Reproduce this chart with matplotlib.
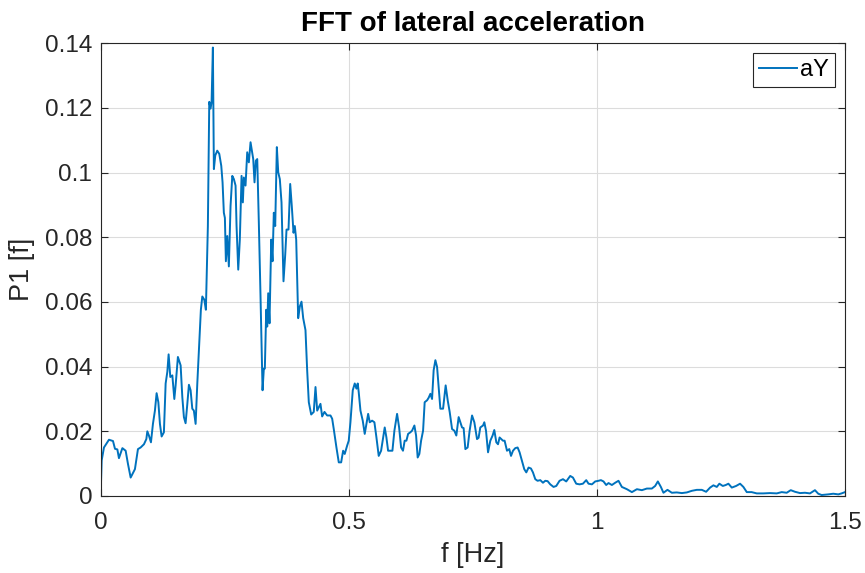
import matplotlib
matplotlib.use('Agg')
import matplotlib.pyplot as plt

plt.rcParams['font.family'] = ['Liberation Sans', 'DejaVu Sans']

# frequency [Hz] and single-sided amplitude
freq = [0.000, 0.002, 0.0066, 0.0167, 0.0248, 0.0288, 0.0336, 0.0368, 0.0437, 0.0503,
        0.055, 0.0604, 0.069, 0.0751, 0.0805, 0.0872, 0.092, 0.094, 0.0972, 0.1013,
        0.1053, 0.1093, 0.1127, 0.1162, 0.1194, 0.1228, 0.1274, 0.1309, 0.1343, 0.1369,
        0.1403, 0.1444, 0.1484, 0.151, 0.1556, 0.1611, 0.1645, 0.1677, 0.1711, 0.1746,
        0.1778, 0.1812, 0.1846, 0.1878, 0.1913, 0.1947, 0.1979, 0.2019, 0.2048, 0.2088,
        0.212, 0.216, 0.2188, 0.2215, 0.2235, 0.2261, 0.2281, 0.2309, 0.2349, 0.239,
        0.243, 0.2456, 0.2482, 0.2503, 0.2523, 0.2551, 0.2583, 0.2617, 0.2652, 0.2684,
        0.2718, 0.2738, 0.2772, 0.2804, 0.2839, 0.2865, 0.2885, 0.2919, 0.2953, 0.2986,
        0.302, 0.3074, 0.31, 0.3127, 0.3155, 0.3187, 0.3221, 0.3262, 0.3288, 0.3308,
        0.3336, 0.3356, 0.3376, 0.3402, 0.3437, 0.3463, 0.3489, 0.3517, 0.355, 0.3578,
        0.361, 0.3644, 0.3684, 0.3719, 0.3745, 0.3785, 0.3819, 0.3851, 0.3886, 0.3912,
        0.394, 0.398, 0.4013, 0.4047, 0.4081, 0.4127, 0.4161, 0.4194, 0.4242, 0.4294,
        0.4329, 0.4363, 0.4429, 0.4463, 0.451, 0.4564, 0.4631, 0.4665, 0.4697, 0.4751,
        0.4798, 0.4846, 0.4886, 0.4918, 0.4967, 0.4999, 0.5033, 0.508, 0.512, 0.5154,
        0.518, 0.52, 0.5235, 0.5281, 0.5321, 0.5355, 0.539, 0.5422, 0.547, 0.5516,
        0.5557, 0.5603, 0.5651, 0.5692, 0.5724, 0.5758, 0.5792, 0.5838, 0.5879, 0.5919,
        0.5973, 0.6014, 0.6054, 0.6092, 0.6126, 0.6161, 0.6195, 0.6241, 0.6275, 0.6322,
        0.6356, 0.6388, 0.6422, 0.6457, 0.6497, 0.6529, 0.6578, 0.661, 0.6644, 0.6678,
        0.671, 0.6745, 0.6779, 0.6811, 0.6845, 0.69, 0.6952, 0.6993, 0.7033, 0.7081,
        0.7127, 0.7167, 0.7214, 0.7282, 0.7314, 0.7349, 0.7395, 0.7435, 0.7484, 0.753,
        0.7584, 0.7616, 0.765, 0.7705, 0.7731, 0.7765, 0.7806, 0.7852, 0.7898, 0.7932,
        0.7973, 0.8007, 0.8039, 0.8073, 0.8107, 0.814, 0.8188, 0.8234, 0.8269, 0.8309,
        0.8355, 0.8402, 0.8442, 0.849, 0.8536, 0.8577, 0.8623, 0.8671, 0.8711, 0.8758,
        0.8804, 0.8859, 0.8913, 0.8959, 0.9006, 0.906, 0.9126, 0.9181, 0.9247, 0.9316,
        0.9382, 0.9462, 0.9517, 0.9583, 0.965, 0.9718, 0.9785, 0.9831, 0.99, 0.9966,
        1.0032, 1.0081, 1.0133, 1.0187, 1.0234, 1.0302, 1.0369, 1.0435, 1.0503, 1.0604,
        1.0705, 1.0806, 1.0906, 1.1007, 1.1107, 1.1174, 1.1228, 1.1289, 1.1341, 1.1422,
        1.151, 1.1609, 1.1712, 1.1812, 1.1913, 1.2013, 1.2114, 1.2201, 1.2281, 1.2348,
        1.2416, 1.2468, 1.2537, 1.2597, 1.265, 1.2718, 1.2805, 1.2885, 1.2952, 1.302,
        1.3118, 1.3221, 1.3354, 1.3489, 1.3624, 1.3724, 1.3825, 1.3906, 1.3992, 1.4093,
        1.4193, 1.4294, 1.4394, 1.4461, 1.4529, 1.4662, 1.4763, 1.4864, 1.4931, 1.5]

P1 = [0.001, 0.011, 0.015, 0.0174, 0.017, 0.0146, 0.0144, 0.0117, 0.0148, 0.014,
      0.0099, 0.0057, 0.0083, 0.0145, 0.015, 0.016, 0.0176, 0.020, 0.0187, 0.0166,
      0.0223, 0.0264, 0.0318, 0.029, 0.0223, 0.0184, 0.0197, 0.0348, 0.0384, 0.0438,
      0.0368, 0.0373, 0.030, 0.0342, 0.043, 0.0404, 0.0306, 0.0244, 0.0225, 0.0285,
      0.0344, 0.0327, 0.027, 0.0264, 0.0223, 0.0348, 0.045, 0.0576, 0.0617, 0.0607,
      0.0576, 0.0835, 0.1219, 0.1198, 0.122, 0.1387, 0.1011, 0.1053, 0.1068, 0.1058,
      0.1021, 0.097, 0.0876, 0.086, 0.0726, 0.0804, 0.071, 0.0897, 0.099, 0.098,
      0.096, 0.0835, 0.070, 0.0793, 0.099, 0.0908, 0.0985, 0.096, 0.1063, 0.1032,
      0.1094, 0.1042, 0.097, 0.1037, 0.1042, 0.0845, 0.0617, 0.0327, 0.0394, 0.0394,
      0.0576, 0.0524, 0.0627, 0.0534, 0.0793, 0.0726, 0.0876, 0.0835, 0.1079, 0.1001,
      0.098, 0.0908, 0.0664, 0.0747, 0.0824, 0.0824, 0.0965, 0.0897, 0.0814, 0.0835,
      0.0793, 0.055, 0.0586, 0.0601, 0.055, 0.0513, 0.0389, 0.029, 0.0252, 0.026,
      0.0337, 0.0264, 0.0285, 0.0246, 0.026, 0.0249, 0.0249, 0.0239, 0.0207, 0.015,
      0.0104, 0.0104, 0.014, 0.013, 0.0156, 0.0171, 0.0228, 0.0327, 0.0348, 0.0332,
      0.0348, 0.0321, 0.0264, 0.0233, 0.0192, 0.0223, 0.0254, 0.0228, 0.0233, 0.0228,
      0.0181, 0.0124, 0.014, 0.0181, 0.0212, 0.0181, 0.014, 0.014, 0.014, 0.0202,
      0.0254, 0.0212, 0.015, 0.014, 0.0171, 0.0171, 0.0192, 0.0197, 0.0202, 0.0218,
      0.0187, 0.0119, 0.013, 0.0171, 0.0202, 0.029, 0.0296, 0.0304, 0.0316, 0.030,
      0.0389, 0.042, 0.0399, 0.0337, 0.027, 0.027, 0.0342, 0.0296, 0.026, 0.0207,
      0.0202, 0.0187, 0.0244, 0.0212, 0.021, 0.0145, 0.015, 0.0202, 0.0249, 0.0228,
      0.0176, 0.018, 0.0212, 0.0218, 0.0228, 0.0202, 0.0135, 0.0171, 0.0187, 0.0204,
      0.0166, 0.016, 0.0181, 0.0176, 0.0171, 0.0171, 0.014, 0.0145, 0.0124, 0.014,
      0.0148, 0.015, 0.0135, 0.0109, 0.0083, 0.0073, 0.0088, 0.0085, 0.0073, 0.0052,
      0.0047, 0.0049, 0.0041, 0.0047, 0.0046, 0.0036, 0.0028, 0.0031, 0.0047, 0.0052,
      0.0045, 0.0062, 0.0057, 0.0038, 0.0036, 0.0038, 0.0049, 0.0038, 0.0036, 0.0045,
      0.0047, 0.0049, 0.0045, 0.0034, 0.004, 0.0034, 0.0041, 0.0047, 0.0028, 0.0021,
      0.0012, 0.0021, 0.0018, 0.0023, 0.0023, 0.0031, 0.0045, 0.0028, 0.001, 0.0019,
      0.001, 0.0011, 0.0009, 0.0011, 0.0016, 0.0019, 0.0019, 0.0013, 0.0026, 0.0033,
      0.0028, 0.0038, 0.0031, 0.0034, 0.0038, 0.0026, 0.0031, 0.0038, 0.0028, 0.0012,
      0.0012, 0.0008, 0.0008, 0.0009, 0.0008, 0.0012, 0.001, 0.0018, 0.0013, 0.0009,
      0.001, 0.0008, 0.0018, 0.0007, 0.0003, 0.0005, 0.0007, 0.0005, 0.0008, 0.0012]

xticks = [0, 0.5, 1, 1.5]
xtick_labels = ['0', '0.5', '1', '1.5']
yticks = [0, 0.02, 0.04, 0.06, 0.08, 0.1, 0.12, 0.14]
ytick_labels = ['0', '0.02', '0.04', '0.06', '0.08', '0.1', '0.12', '0.14']

fig = plt.figure(figsize=(8.65, 5.73), dpi=100)
ax = fig.add_axes([0.1164, 0.1344, 0.8605, 0.7900])

ax.plot(freq, P1, color='#0072BD', lw=1.4, label='aY')

ax.set_xlim(0, 1.5)
ax.set_ylim(0, 0.14)
ax.set_xticks(xticks)
ax.set_xticklabels(xtick_labels)
ax.set_yticks(yticks)
ax.set_yticklabels(ytick_labels)
ax.grid(True, color='#dcdcdc', lw=0.8)
ax.set_axisbelow(True)
ax.tick_params(direction='in', length=5, width=0.8, colors='#262626',
               labelsize=17.5, top=True, right=True)
ax.tick_params(axis='x', pad=11.5)
ax.tick_params(axis='y', pad=6)
for s in ax.spines.values():
    s.set_color('#262626')
    s.set_linewidth(0.8)

ax.set_xlabel('f [Hz]', fontsize=19.5, color='#262626', labelpad=6)
ax.set_ylabel('P1 [f]', fontsize=19.5, color='#262626', labelpad=7)
ax.set_title('FFT of lateral acceleration', fontsize=20, fontweight='bold', pad=9)

leg = ax.legend(loc='upper right', fontsize=17, fancybox=False, framealpha=1,
                edgecolor='#262626', handlelength=1.6, borderpad=0.25,
                handletextpad=0.15, borderaxespad=0.42)
leg.get_frame().set_linewidth(0.8)

fig.savefig('out.png', dpi=100)
